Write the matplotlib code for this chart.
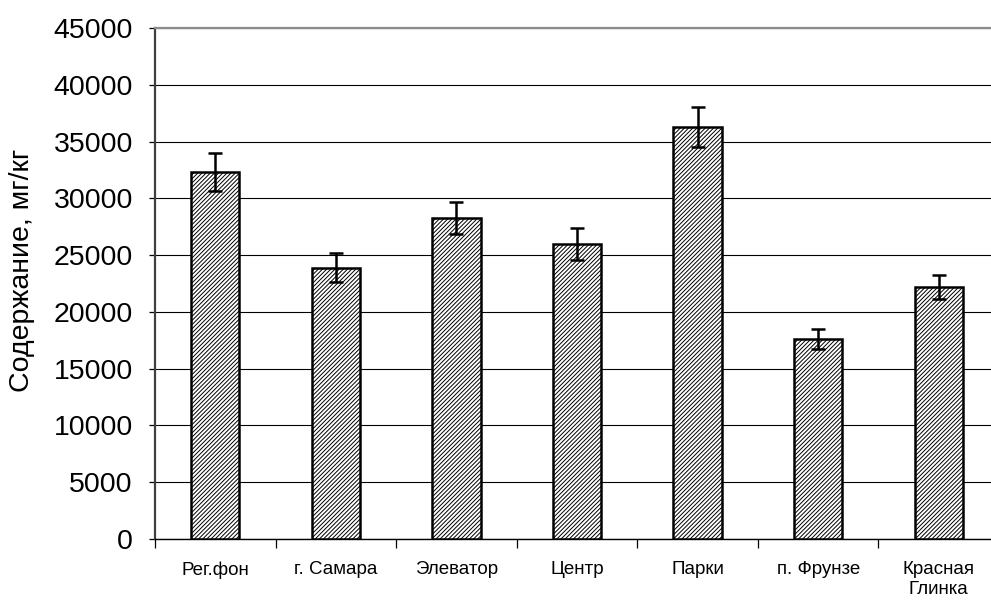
import matplotlib
matplotlib.use('Agg')
import matplotlib.pyplot as plt
import numpy as np

plt.rcParams['font.family'] = ['Liberation Sans', 'DejaVu Sans']
plt.rcParams['hatch.linewidth'] = 0.7

sites = ['Рег.фон', 'г. Самара', 'Элеватор', 'Центр', 'Парки', 'п. Фрунзе', 'Красная\nГлинка']
content = [32300, 23900, 28300, 26000, 36300, 17600, 22200]
spread = [1650, 1300, 1400, 1400, 1750, 900, 1050]

fig = plt.figure(figsize=(9.91, 6.03), dpi=100)
# plot area runs a bit past the right edge of the figure
ax = fig.add_axes([155 / 991, 64 / 603, 844 / 991, 511 / 603])

x = np.arange(len(sites))
ax.bar(x, content, width=0.4, color='white', edgecolor='black',
       linewidth=1.8, hatch='////////', zorder=3)
ax.errorbar(x, content, yerr=spread, fmt='none', ecolor='black',
            elinewidth=1.8, capsize=5, capthick=1.8, zorder=4)

ax.set_xlim(-0.5, len(sites) - 0.5)
ax.set_ylim(0, 45000)
ax.set_yticks(np.arange(0, 45001, 5000))
ax.yaxis.grid(True, color='black', linewidth=0.8, zorder=0)
ax.set_axisbelow(True)

ax.set_xticks(x)
ax.set_xticklabels(sites, fontsize=13.5, linespacing=1.25)
ax.set_xticks(np.arange(-0.5, len(sites), 1.0), minor=True)
ax.tick_params(axis='x', which='major', length=0, pad=16)
ax.tick_params(axis='x', which='minor', length=6.5, width=0.9, direction='out')
ax.tick_params(axis='y', length=4, width=0.9, pad=12, labelsize=20.5)

ax.spines['right'].set_visible(False)
ax.spines['top'].set_color('#8c8c8c')
ax.spines['top'].set_linewidth(1.6)
ax.spines['left'].set_color('#404040')
ax.spines['left'].set_linewidth(1.6)
ax.spines['bottom'].set_color('black')
ax.spines['bottom'].set_linewidth(1.0)

fig.text(22 / 991, 1 - 270 / 603, 'Содержание, мг/кг', rotation=90,
         fontsize=20.5, ha='center', va='center')

fig.savefig('out.png', dpi=100)
